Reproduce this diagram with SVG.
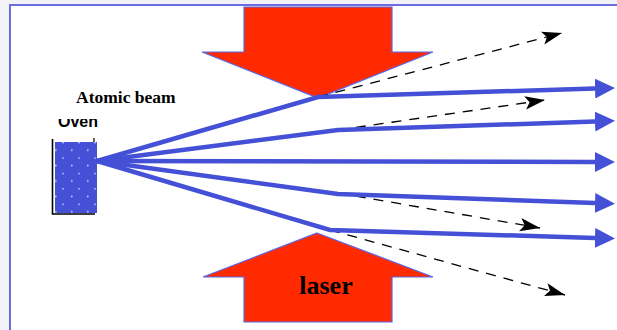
<svg xmlns="http://www.w3.org/2000/svg" width="617" height="330" viewBox="0 0 617 330">
<style>
.beam{fill:none;stroke:#4450d6;stroke-width:4.5;stroke-linejoin:miter;marker-end:url(#bh)}
.dash{fill:none;stroke:#000;stroke-width:1.3;stroke-dasharray:10 8;marker-end:url(#dh)}
.laser{fill:#ff2a00;stroke:#5a66e6;stroke-width:1.2}
.lbl{font-family:"Liberation Serif","Times New Roman",serif;font-weight:bold;fill:#000}
</style>
<defs>
<marker id="bh" markerUnits="userSpaceOnUse" markerWidth="20" markerHeight="20" viewBox="0 0 18 18" refX="0" refY="9" orient="auto">
<path d="M0,0 L18,9 L0,18 z" fill="#4450d6"/>
</marker>
<marker id="dh" markerUnits="userSpaceOnUse" markerWidth="20" markerHeight="14" viewBox="0 0 18 12" refX="18" refY="6" orient="auto">
<path d="M0,0 L18,6 L0,12 L4,6 z" fill="#000"/>
</marker>
<pattern id="dots" patternUnits="userSpaceOnUse" width="16" height="15.4" x="55" y="142">
<circle cx="8" cy="0.5" r="0.9" fill="#c9ccff"/>
<circle cx="0.8" cy="8.2" r="0.9" fill="#c9ccff"/>
<circle cx="16.8" cy="8.2" r="0.9" fill="#c9ccff"/>
</pattern>
<clipPath id="ovenclip"><rect x="40" y="119" width="80" height="20"/></clipPath>
</defs>
<rect x="0" y="0" width="617" height="330" fill="#f3f2f8"/>
<rect x="10" y="5" width="620" height="340" fill="#fff" stroke="#6a6ee0" stroke-width="2"/>
<g id="laser-top">
<polygon class="laser" points="244,7 392,7 392,52 433,52 318,98 202,52 244,52"/>
</g>
<g id="laser-bottom">
<polygon class="laser" points="317,233 433,277 392,277 392,322 244,322 244,277 203,277"/>
<text class="lbl" x="326" y="294" font-size="26" text-anchor="middle">laser</text>
</g>
<g id="oven">
<rect x="55" y="142" width="42" height="71" fill="#4450d6"/>
<rect x="55" y="142" width="42" height="71" fill="url(#dots)"/>
<path d="M52.5,139 V214 H95" fill="none" stroke="#000" stroke-width="1.6"/>
<path d="M94,138 V142" stroke="#000" stroke-width="1.2"/>
<text x="58" y="127" font-family="Liberation Sans, Arial, sans-serif" font-size="16" font-weight="bold" fill="#000" clip-path="url(#ovenclip)">Oven</text>
</g>
<g id="label-atomic-beam">
<text class="lbl" x="76" y="103" font-size="17.5">Atomic beam</text>
</g>
<g id="connectors">
<polyline class="dash" points="318,97 562,33"/>
<polyline class="dash" points="338,130 545,100"/>
<polyline class="dash" points="338,193 540,228"/>
<polyline class="dash" points="330,230 565,295"/>
<polyline class="beam" points="97,161 318,97 595,88.5"/>
<polyline class="beam" points="97,161 338,130 595,121.5"/>
<polyline class="beam" points="97,161 595,162"/>
<polyline class="beam" points="97,161 338,194 595,203"/>
<polyline class="beam" points="97,161 330,230 595,238"/>
</g>
</svg>
